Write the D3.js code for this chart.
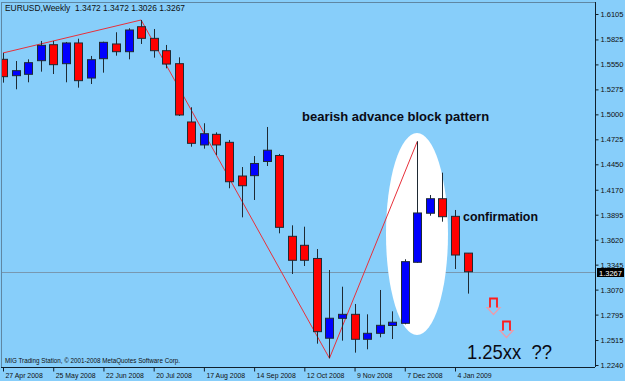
<!DOCTYPE html>
<html>
<head>
<meta charset="utf-8">
<script src="https://cdn.jsdelivr.net/npm/d3@7"></script>
<style>
  body { margin: 0; background: #87CEFA; }
  svg { display: block; }
</style>
</head>
<body>
<div id="vis"></div>
<script>
// EURUSD weekly, candles
const FRAME_WIDTH = 625;
const FRAME_HEIGHT = 381;
const PLOT = {left: 1, right: 595, top: 2, bottom: 367};
const FONT = "'Liberation Sans', Arial, sans-serif";

const firstWeek = new Date(2008, 3, 27);
const opens  = [1.5606, 1.5426, 1.5441, 1.5591, 1.5767, 1.5558, 1.5786, 1.5400, 1.5613, 1.5775,
                1.5690, 1.5965, 1.5837, 1.5701, 1.5558, 1.4916, 1.4663, 1.4780, 1.4692, 1.4321,
                1.4325, 1.4481, 1.4547, 1.3657, 1.3558, 1.3413, 1.2535, 1.2754, 1.2798, 1.2523,
                1.2589, 1.2675, 1.2699, 1.3371, 1.3911, 1.4071, 1.3877, 1.3472];
const highs  = [1.5676, 1.5587, 1.5606, 1.5808, 1.5808, 1.5797, 1.5833, 1.5643, 1.5800, 1.5904,
                1.5948, 1.6039, 1.5940, 1.5764, 1.5628, 1.5078, 1.4902, 1.4802, 1.4718, 1.4420,
                1.4541, 1.4861, 1.4564, 1.3778, 1.3763, 1.3517, 1.3286, 1.3102, 1.2912, 1.2798,
                1.3066, 1.2831, 1.3404, 1.4703, 1.4112, 1.4358, 1.3947, 1.3472];
const lows   = [1.5349, 1.5276, 1.5353, 1.5470, 1.5444, 1.5353, 1.5294, 1.5334, 1.5459, 1.5646,
                1.5606, 1.5775, 1.5624, 1.5507, 1.4982, 1.4644, 1.4622, 1.4552, 1.4186, 1.3866,
                1.4057, 1.4431, 1.3690, 1.3242, 1.3330, 1.2475, 1.2314, 1.2508, 1.2376, 1.2413,
                1.2545, 1.2526, 1.2688, 1.3365, 1.3884, 1.3818, 1.3297, 1.3026];
const closes = [1.5415, 1.5481, 1.5569, 1.5760, 1.5547, 1.5786, 1.5371, 1.5602, 1.5793, 1.5690,
                1.5929, 1.5837, 1.5701, 1.5554, 1.4993, 1.4681, 1.4787, 1.4663, 1.4258, 1.4214,
                1.4459, 1.4605, 1.3756, 1.3393, 1.3393, 1.2607, 1.2755, 1.2798, 1.2523, 1.2589,
                1.2677, 1.2711, 1.3378, 1.3914, 1.4071, 1.3873, 1.3451, 1.3267];

const priceTicks = [1.6105, 1.5825, 1.5550, 1.5275, 1.5000, 1.4725, 1.4450, 1.4170,
                    1.3895, 1.3620, 1.3345, 1.3070, 1.2795, 1.2515, 1.2240];
const dateTicks = ["2008-04-27", "2008-05-25", "2008-06-22", "2008-07-20", "2008-08-17",
                   "2008-09-14", "2008-10-12", "2008-11-09", "2008-12-07", "2009-01-04"];
// zigzag: [candle index, "H" or "L"]
const zigzag = [[0, "H"], [11, "H"], [26, "L"], [33, "H"]];
const lastPrice = 1.3267;

const weekDate = (i) => d3.timeWeek.offset(firstWeek, i);
const candles = opens.map((o, i) => ({
  date: weekDate(i), o: o, h: highs[i], l: lows[i], c: closes[i]
}));

const X_SCALE = d3.scaleTime()
  .domain([firstWeek, new Date(2009, 0, 4)])
  .range([3, 455]);
const Y_SCALE = d3.scaleLinear()
  .domain([1.2240, 1.6105])
  .range([365, 14]);

// squeeze a text to a given width (the original uses a narrow screen font)
function fit(sel, k) {
  sel.each(function () {
    const w = this.getComputedTextLength();
    d3.select(this).attr("textLength", w * k).attr("lengthAdjust", "spacingAndGlyphs");
  });
}

const svg = d3.select("#vis").append("svg")
  .attr("width", FRAME_WIDTH)
  .attr("height", FRAME_HEIGHT)
  .style("font-family", FONT);

svg.append("rect")
  .attr("width", FRAME_WIDTH).attr("height", FRAME_HEIGHT)
  .attr("fill", "#87CEFA");

svg.append("clipPath").attr("id", "plotclip")
  .append("rect")
  .attr("x", PLOT.left).attr("y", PLOT.top)
  .attr("width", PLOT.right - PLOT.left).attr("height", PLOT.bottom - PLOT.top);

const plot = svg.append("g").attr("clip-path", "url(#plotclip)");

// last price line
plot.append("line")
  .attr("x1", PLOT.left).attr("x2", PLOT.right)
  .attr("y1", Math.round(Y_SCALE(lastPrice)) + 0.5).attr("y2", Math.round(Y_SCALE(lastPrice)) + 0.5)
  .attr("stroke", "#7898b0").attr("stroke-width", 1);

// white ellipse behind the pattern
plot.append("ellipse")
  .attr("cx", 417).attr("cy", 234)
  .attr("rx", 31).attr("ry", 101)
  .attr("fill", "#ffffff");

// zigzag line
const zz = d3.line()
  .x((d) => X_SCALE(weekDate(d[0])))
  .y((d) => Y_SCALE(d[1] === "H" ? highs[d[0]] : lows[d[0]]));
plot.append("path")
  .attr("d", zz(zigzag))
  .attr("fill", "none")
  .attr("stroke", "#e8303a")
  .attr("stroke-width", 1);

// candles
const bodyW = 8;
const cg = plot.selectAll(".candle")
  .data(candles)
  .enter()
  .append("g");

cg.append("line")
  .attr("x1", (d) => Math.round(X_SCALE(d.date)) + 0.5)
  .attr("x2", (d) => Math.round(X_SCALE(d.date)) + 0.5)
  .attr("y1", (d) => Y_SCALE(d.h))
  .attr("y2", (d) => Y_SCALE(d.l))
  .attr("stroke", "#1e2a33");

cg.append("rect")
  .attr("x", (d) => Math.round(X_SCALE(d.date)) - bodyW / 2 + 0.5)
  .attr("y", (d) => Y_SCALE(Math.max(d.o, d.c)))
  .attr("width", bodyW)
  .attr("height", (d) => Math.max(1, Y_SCALE(Math.min(d.o, d.c)) - Y_SCALE(Math.max(d.o, d.c))))
  .attr("fill", (d) => d.c >= d.o ? "#0000ff" : "#ff0000")
  .attr("stroke", "#1e2a33")
  .attr("stroke-width", 1);

// frame
svg.append("line")
  .attr("x1", PLOT.left + 0.5).attr("x2", PLOT.left + 0.5)
  .attr("y1", PLOT.top).attr("y2", PLOT.bottom)
  .attr("stroke", "#5f87a3");
svg.append("line")
  .attr("x1", PLOT.left).attr("x2", PLOT.right)
  .attr("y1", PLOT.top + 0.5).attr("y2", PLOT.top + 0.5)
  .attr("stroke", "#5f87a3");

// right price axis
const yAxis = svg.append("g")
  .attr("transform", "translate(" + (PLOT.right + 0.5) + ",0)")
  .call(d3.axisRight(Y_SCALE).tickValues(priceTicks).tickFormat(d3.format(".4f")).tickSize(3).tickPadding(2));
yAxis.select(".domain").attr("d", "M0," + PLOT.top + "V" + PLOT.bottom).attr("stroke", "#10202c");
yAxis.selectAll(".tick line").attr("stroke", "#10202c");
yAxis.selectAll(".tick text")
  .attr("font-family", FONT).attr("font-size", "7.5px").attr("fill", "#101010");

// last price label
svg.append("rect")
  .attr("x", 597).attr("y", Math.round(Y_SCALE(lastPrice)) - 4)
  .attr("width", 27).attr("height", 9)
  .attr("fill", "#000000");
svg.append("text")
  .attr("x", 599).attr("y", Math.round(Y_SCALE(lastPrice)) + 3.5)
  .attr("font-size", "7.5px").attr("fill", "#ffffff")
  .text(d3.format(".4f")(lastPrice));

// bottom time axis
const xAxis = svg.append("g")
  .attr("transform", "translate(0," + (PLOT.bottom + 0.5) + ")")
  .call(d3.axisBottom(X_SCALE)
    .tickValues(dateTicks.map((s) => d3.timeParse("%Y-%m-%d")(s)))
    .tickFormat(d3.timeFormat("%-d %b %Y"))
    .tickSize(4).tickPadding(1));
xAxis.select(".domain").attr("d", "M" + PLOT.left + ",0H" + PLOT.right).attr("stroke", "#10202c");
xAxis.selectAll(".tick line").attr("stroke", "#10202c");
xAxis.selectAll(".tick text")
  .attr("font-family", FONT).attr("font-size", "7.5px").attr("fill", "#101010")
  .attr("text-anchor", "start").attr("dx", "2px")
  .call(fit, 0.92);

// header and footer texts
svg.append("text")
  .attr("x", 5).attr("y", 11)
  .attr("font-size", "9px").attr("fill", "#101010")
  .attr("xml:space", "preserve")
  .text("EURUSD,Weekly  1.3472 1.3472 1.3026 1.3267")
  .attr("textLength", 180).attr("lengthAdjust", "spacingAndGlyphs");
svg.append("text")
  .attr("x", 5).attr("y", 363)
  .attr("font-size", "8px").attr("fill", "#101010")
  .text("MIG Trading Station, \u00a9 2001-2008 MetaQuotes Software Corp.")
  .attr("textLength", 175).attr("lengthAdjust", "spacingAndGlyphs");

// annotations
svg.append("text")
  .attr("x", 302).attr("y", 121)
  .attr("font-size", "13px").attr("font-weight", "bold").attr("fill", "#0a0a14")
  .text("bearish advance block pattern");
svg.append("text")
  .attr("x", 463).attr("y", 221)
  .attr("font-size", "13px").attr("font-weight", "bold").attr("fill", "#0a0a14")
  .text("confirmation")
  .attr("textLength", 75).attr("lengthAdjust", "spacingAndGlyphs");
svg.append("text")
  .attr("x", 467).attr("y", 359)
  .attr("font-size", "21px").attr("fill", "#0a0a14")
  .attr("xml:space", "preserve")
  .text("1.25xx  ??")
  .attr("textLength", 85).attr("lengthAdjust", "spacingAndGlyphs");

// down arrows: red stem, pale head
const stemPath = (x, y) =>
  "M" + (x + 3) + "," + (y + 9) + "V" + y + "H" + (x + 10) + "V" + (y + 9);
const headPath = (x, y) =>
  "M" + (x + 3) + "," + (y + 9) + "H" + x + "L" + (x + 6.5) + "," + (y + 16) +
  "L" + (x + 13) + "," + (y + 9) + "H" + (x + 10);
[[487, 298.5], [500, 321.5]].forEach((p) => {
  svg.append("path")
    .attr("d", headPath(p[0], p[1]))
    .attr("fill", "none")
    .attr("stroke", "#f09aa8")
    .attr("stroke-width", 1.2);
  svg.append("path")
    .attr("d", stemPath(p[0], p[1]))
    .attr("fill", "none")
    .attr("stroke", "#ff1a1a")
    .attr("stroke-width", 1.8);
});
</script>
</body>
</html>
